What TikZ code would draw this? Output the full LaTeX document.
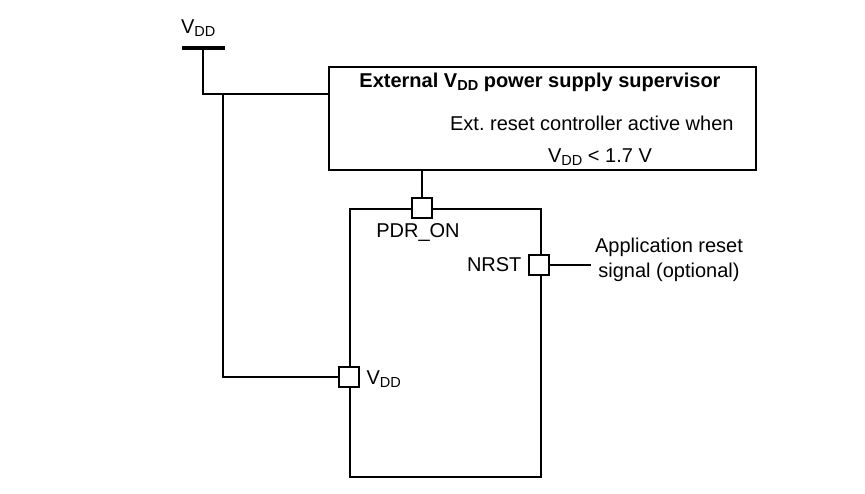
\documentclass[tikz,border=0pt]{standalone}
\usepackage{fontspec}
\setmainfont{Liberation Sans}
\usetikzlibrary{positioning}
\newcommand{\vdd}{V\raisebox{-3pt}{\fontsize{14.5}{14.5}\selectfont DD}}
\frenchspacing

\begin{document}
\begin{tikzpicture}[x=1pt, y=-1pt, line width=2.2pt,
    every node/.style={font=\fontsize{20}{25}\selectfont},
    block/.style={draw, inner sep=0pt, anchor=north west},
    pinbox/.style={draw, fill=white, minimum size=20pt, inner sep=0pt}]
  \useasboundingbox (0,0) rectangle (865,493);
  % supply rail
  \node[fill, minimum width=43pt, minimum height=4.5pt, inner sep=0pt] (bar) at (203,48) {};
  \node[anchor=south west, inner sep=0pt] (vddlbl) at (180,38) {\vdd};
  % blocks
  \node[block, minimum width=427pt, minimum height=103pt] (sup) at (328,66) {};
  \node[block, minimum width=191pt, minimum height=268pt] (mcu) at (349,208) {};
  \node[font=\fontsize{20}{25}\selectfont\bfseries] (title) at (540,82) {External \vdd{} power supply supervisor};
  \node[anchor=east] (cond1) at (738,123) {Ext. reset controller active when};
  \node (cond2) at (600,157) {\vdd{} < 1.7 V};
  % pins
  \node[pinbox] (ppdr) at (422,208) {};
  \node[pinbox] (pnrst) at (539,265) {};
  \node[pinbox] (pvdd) at (349,377) {};
  \node[below=0pt of ppdr, xshift=-4pt] (lpdr) {PDR\_ON};
  \node[left=2pt of pnrst] (lnrst) {NRST};
  \node[right=2pt of pvdd, yshift=-2pt] (lvdd) {\vdd};
  \node[align=center] (app) at (669,260) {Application reset\\signal (optional)};
  % wiring
  \coordinate (tap) at (328,94);
  \coordinate (jn) at (223,94);
  \draw (bar.center) |- (tap);
  \draw (jn) |- (pvdd.west);
  \draw (ppdr.north) -- (ppdr.north |- sup.south);
  \draw (pnrst.east) -- (app.west |- pnrst.east);
\end{tikzpicture}
\end{document}
